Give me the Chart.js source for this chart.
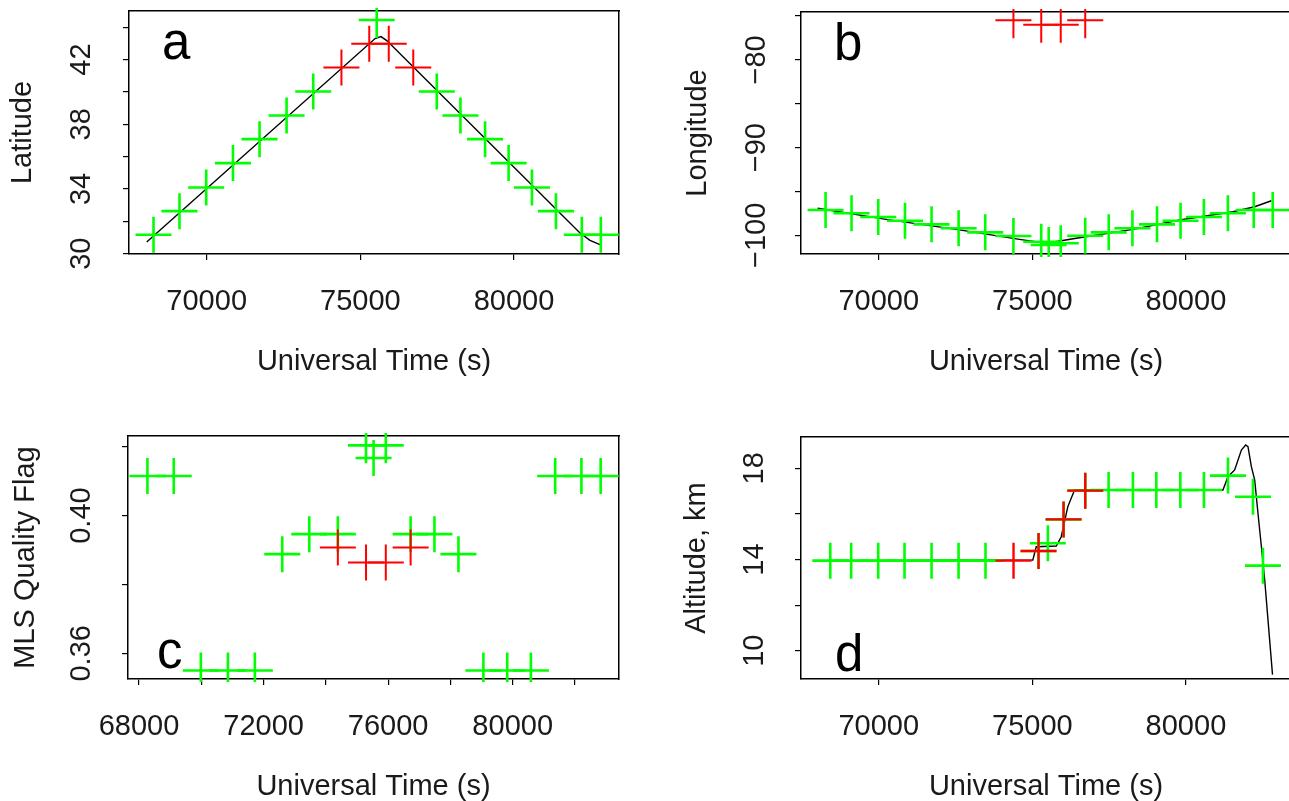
<!DOCTYPE html>
<html><head><meta charset="utf-8">
<script src="https://cdn.jsdelivr.net/npm/chart.js@4.4.1/dist/chart.umd.min.js"></script>
<style>
html,body{margin:0;padding:0;background:#fff;overflow:hidden;width:1289px;height:801px;}
canvas{position:absolute;left:0;top:0;}
</style></head><body>
<canvas id="pa" width="1300" height="830"></canvas>
<canvas id="pb" width="1300" height="830"></canvas>
<canvas id="pc" width="1300" height="830"></canvas>
<canvas id="pd" width="1300" height="830"></canvas>
<script>
// ---------------- data ----------------
const utSat = [68270, 69115, 69985, 70855, 71720, 72600, 73467, 74385, 75290, 75533, 75925, 76722, 77487, 78258, 79059, 79825, 80584, 81365, 82207, 82825];
// green latitude samples hidden under the red ones are unknown (null)
const latGreen = [31.17, 32.63, 34.09, 35.60, 37.08, 38.54, 40.02, null, null, 44.44, null, null, 40.02, 38.54, 37.08, 35.60, 34.09, 32.63, 31.17, 31.17];
const lonGreen = [-97.12, -97.49, -97.91, -98.34, -98.75, -99.20, -99.66, -100.08, -100.73, -101.11, -100.91, -100.05, -99.66, -99.20, -98.75, -98.34, -97.91, -97.49, -97.12, -97.12];
const flagGreen = [0.4115, 0.4115, 0.3550, 0.3550, 0.3550, 0.3888, 0.3946, 0.3946, 0.4204, 0.4167, 0.4204, 0.3946, 0.3946, 0.3888, 0.3550, 0.3550, 0.3550, 0.4115, 0.4115, 0.4115];

const utRed = [74385, 75290, 75925, 76722];
const latRed = [41.50, 42.98, 42.98, 41.50];
const lonRed = [-75.48, -75.98, -75.98, -75.48];
const flagRed = [0.3907, 0.3864, 0.3864, 0.3907];

const utAlt = [68423, 69104, 69984, 70840, 71720, 72599, 73476, 74388, 75202, 75505, 76017, 76723, 77482, 78274, 79036, 79818, 80586, 81368, 82182, 82508];
const altGreen = [13.95, 13.95, 13.95, 13.95, 13.95, 13.95, 13.95, null, 14.37, 14.71, 15.76, 17.02, 17.05, 17.05, 17.05, 17.05, 17.05, 17.68, 16.75, 13.73];
const utAltRed = [74388, 75202, 76017, 76723];
const altRed = [13.95, 14.37, 15.76, 17.02];

// black reference tracks
const latLineUT = [68048, 75480, 75672, 75860, 82148, 82473, 82799];
const latLine = [30.72, 43.30, 43.42, 43.17, 31.28, 30.82, 30.56];
const lonLineUT = [68013, 70241, 72521, 74583, 75453, 76430, 78274, 79795, 81531, 82238, 82782];
const lonLine = [-96.92, -98.18, -99.32, -100.46, -100.91, -100.34, -99.32, -98.26, -97.31, -96.74, -96.06];
const altLineUT = [68050, 75016, 75127, 75779, 75941, 76156, 76375, 81205, 81368, 81586, 81805, 81945, 82020, 82130, 82238, 82345, 82456, 82564, 82818];
const altLine = [13.95, 13.98, 14.56, 14.59, 15.00, 16.32, 17.05, 17.05, 17.63, 17.93, 18.80, 19.02, 18.95, 18.07, 17.49, 16.03, 14.56, 13.10, 8.95];

// ticks
const utTicks = [70000, 75000, 80000];
const utLabels = [70000, 75000, 80000];
const utTicksC = [68000, 70000, 72000, 74000, 76000, 78000, 80000, 82000];
const utLabelsC = [68000, 72000, 76000, 80000];
const latTicks = [30, 32, 34, 36, 38, 40, 42, 44];
const latLabels = [30, 34, 38, 42];
const lonTicks = [-100, -95, -90, -85, -80, -75];
const lonLabels = [-100, -90, -80];
const flagTicks = [0.36, 0.38, 0.40, 0.42];
const flagLabels = [0.36, 0.40];
const altTicks = [10, 12, 14, 16, 18];
const altLabels = [10, 14, 18];

// ---------------- styling / helpers ----------------
const FAM = '"Liberation Sans", Arial, Helvetica, sans-serif';
const FONT = {family: FAM, size: 29};
const TXT = '#1a1a1a';
const GREEN = '#00ff00', RED = '#ff0000';

function zeroPad(s) { s.paddingLeft = 0; s.paddingRight = 0; s.paddingTop = 0; s.paddingBottom = 0; }
function fixTicks(vals) { return s => { s.ticks = vals.map(v => ({value: v})); }; }
const gridOpt = {display: true, drawOnChartArea: false, drawTicks: true, tickLength: 6, color: '#000', lineWidth: 1.2};
const borderOpt = {display: true, color: '#000', width: 1.5};

function xAxis(min, max, tickVals, labelVals) {
  return {
    type: 'linear', position: 'bottom', min, max, bounds: 'data',
    afterBuildTicks: fixTicks(tickVals),
    afterFit: s => { s.height = 130; zeroPad(s); },
    ticks: {autoSkip: false, minRotation: 0, maxRotation: 0, padding: 24.3, color: TXT, font: FONT,
            callback: v => labelVals.includes(v) ? String(v) : ''},
    grid: gridOpt, border: borderOpt,
    title: {display: true, text: 'Universal Time (s)', color: TXT, font: FONT, padding: {top: 0, bottom: 4.9}}
  };
}
function yAxis(min, max, tickVals, fmt, width, labelPad, title, titlePad) {
  return {
    type: 'linear', position: 'left', min, max, bounds: 'data',
    afterBuildTicks: fixTicks(tickVals),
    afterFit: s => { s.width = width; zeroPad(s); },
    ticks: {autoSkip: false, minRotation: 90, maxRotation: 90, crossAlign: 'center', padding: labelPad,
            color: TXT, font: FONT, callback: fmt},
    grid: gridOpt, border: borderOpt,
    title: {display: true, text: title, color: TXT, font: FONT, padding: {top: titlePad, bottom: 0}}
  };
}
const frameTop = {type: 'linear', position: 'top', min: 0, max: 1, ticks: {display: false}, grid: {display: false},
  border: borderOpt, afterFit: s => { s.height = 0; zeroPad(s); }};
const frameRight = {type: 'linear', position: 'right', min: 0, max: 1, ticks: {display: false}, grid: {display: false},
  border: borderOpt, afterFit: s => { s.width = 0; zeroPad(s); }};

function pts(xs, ys) { return xs.map((x, i) => ({x, y: ys[i]})); }
function lineDs(xs, ys) {
  return {data: pts(xs, ys), showLine: true, borderColor: '#000', borderWidth: 1.4, pointRadius: 0,
          pointHoverRadius: 0, fill: false, order: 3, clip: 2};
}
function crossDs(xs, ys, color, w, order) {
  return {data: pts(xs, ys), showLine: false, pointStyle: 'cross', pointRadius: 18, pointHoverRadius: 18,
          pointBorderColor: color, pointBackgroundColor: color, borderColor: color, pointBorderWidth: w,
          order, clip: 3};
}

const letterPlugin = {
  id: 'panelLetter',
  afterDatasetsDraw(chart, args, o) {
    const {ctx, chartArea} = chart;
    ctx.save();
    ctx.font = '51px ' + FAM;
    ctx.fillStyle = '#000';
    ctx.textBaseline = 'alphabetic';
    ctx.textAlign = 'left';
    ctx.fillText(o.text, chartArea.left + o.dx, chartArea.top + o.dy);
    ctx.restore();
  }
};

function makeChart(id, datasets, scales, padding, letter) {
  return new Chart(document.getElementById(id), {
    type: 'scatter',
    data: {datasets},
    options: {
      responsive: false, animation: false, devicePixelRatio: 1, events: [],
      layout: {padding, autoPadding: false},
      plugins: {legend: {display: false}, tooltip: {enabled: false}, panelLetter: letter},
      scales
    },
    plugins: [letterPlugin]
  });
}

const minusFmt = v => String(v).replace('-', '\u2212');

// ---------------- panel a : latitude ----------------
makeChart('pa', [
  lineDs(latLineUT, latLine),
  crossDs(utSat, latGreen, GREEN, 2.6, 2),
  crossDs(utRed, latRed, RED, 2.0, 1)
], {
  x: xAxis(67472, 83417, utTicks, utLabels),
  y: yAxis(29.98, 45.0, latTicks, v => latLabels.includes(v) ? String(v) : '', 129, 24.9, 'Latitude', 5.6),
  x2: frameTop, y2: frameRight
}, {left: 0, top: 11, right: 681, bottom: 446}, {text: 'a', dx: 33, dy: 47.5});

// ---------------- panel b : longitude ----------------
makeChart('pb', [
  lineDs(lonLineUT, lonLine),
  crossDs(utSat, lonGreen, GREEN, 2.6, 2),
  crossDs(utRed, lonRed, RED, 2.0, 1)
], {
  x: xAxis(67470, 83420, utTicks, utLabels),
  y: yAxis(-102.13, -74.54, lonTicks, v => lonLabels.includes(v) ? minusFmt(v) : '', 141, 5.6, 'Longitude', 20.6),
  x2: frameTop, y2: frameRight
}, {left: 660, top: 12, right: 9, bottom: 446}, {text: 'b', dx: 33, dy: 47.5});

// ---------------- panel c : MLS quality flag ----------------
makeChart('pc', [
  crossDs(utSat, flagGreen, GREEN, 2.6, 2),
  crossDs(utRed, flagRed, RED, 2.0, 1)
], {
  x: xAxis(67646, 83414, utTicksC, utLabelsC),
  y: yAxis(0.35254, 0.42311, flagTicks, v => flagLabels.includes(v) ? v.toFixed(2) : '', 128, 12.1, 'MLS Quality Flag', 8.4),
  x2: frameTop, y2: frameRight
}, {left: 0, top: 436, right: 681, bottom: 21}, {text: 'c', dx: 29, dy: 231.5});

// ---------------- panel d : altitude ----------------
makeChart('pd', [
  lineDs(altLineUT, altLine),
  crossDs(utAlt, altGreen, GREEN, 2.6, 2),
  crossDs(utAltRed, altRed, RED, 2.4, 1)
], {
  x: xAxis(67470, 83420, utTicks, utLabels),
  y: yAxis(8.759, 19.373, altTicks, v => altLabels.includes(v) ? String(v) : '', 141, 23.9, 'Altitude, km', 19.2),
  x2: frameTop, y2: frameRight
}, {left: 660, top: 437, right: 9, bottom: 21}, {text: 'd', dx: 34, dy: 233.5});
</script>
</body></html>
